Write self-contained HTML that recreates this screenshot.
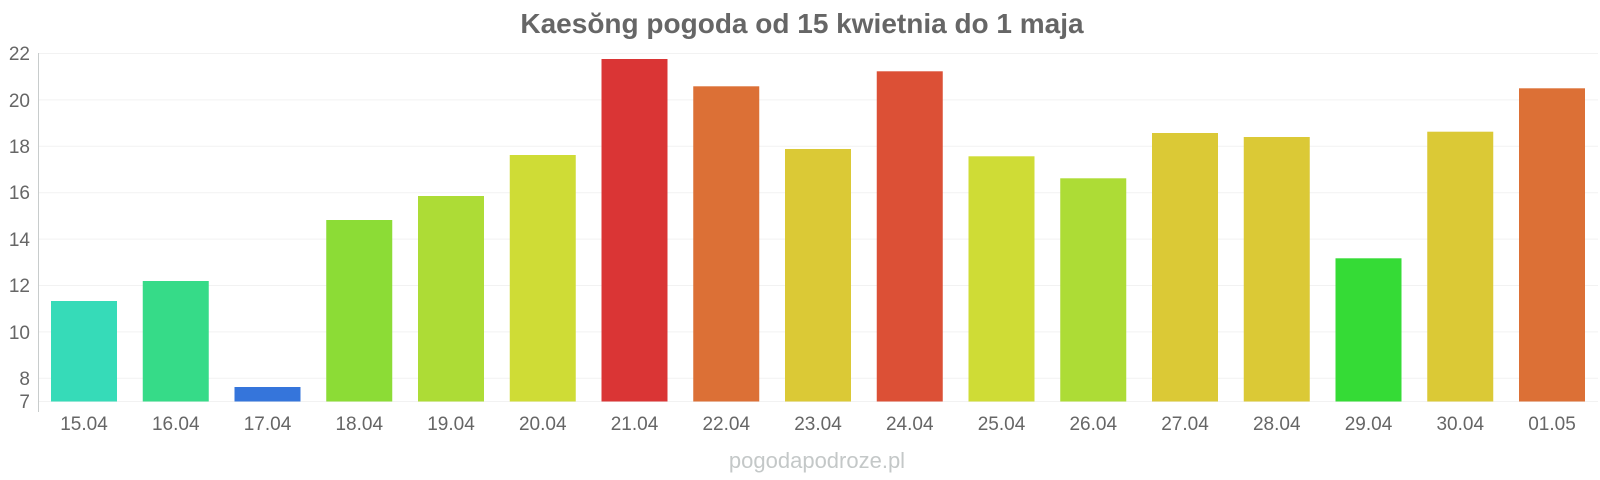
<!DOCTYPE html>
<html><head><meta charset="utf-8"><style>
html,body{margin:0;padding:0;background:#fff;}
svg{display:block;font-family:"Liberation Sans",Arial,sans-serif;}
</style></head><body>
<svg width="1600" height="480" viewBox="0 0 1600 480" xmlns="http://www.w3.org/2000/svg">
<text x="802" y="33" text-anchor="middle" font-size="28" font-weight="bold" fill="#666">Kaesŏng pogoda od 15 kwietnia do 1 maja</text>
<g stroke="#f2f2f2" stroke-width="1">
<line x1="38" x2="1598" y1="53.5" y2="53.5"/>
<line x1="38" x2="1598" y1="99.9" y2="99.9"/>
<line x1="38" x2="1598" y1="146.3" y2="146.3"/>
<line x1="38" x2="1598" y1="192.7" y2="192.7"/>
<line x1="38" x2="1598" y1="239.1" y2="239.1"/>
<line x1="38" x2="1598" y1="285.5" y2="285.5"/>
<line x1="38" x2="1598" y1="331.9" y2="331.9"/>
<line x1="38" x2="1598" y1="378.3" y2="378.3"/>
<line x1="38" x2="1598" y1="401.5" y2="401.5"/>
</g>
<line x1="38.5" x2="38.5" y1="53" y2="412" stroke="#c8cccc" stroke-width="1"/>
<g font-size="19" fill="#666" text-anchor="end">
<text x="30" y="60">22</text>
<text x="30" y="107">20</text>
<text x="30" y="153">18</text>
<text x="30" y="199">16</text>
<text x="30" y="246">14</text>
<text x="30" y="292">12</text>
<text x="30" y="339">10</text>
<text x="30" y="385">8</text>
<text x="30" y="408">7</text>
</g>
<g>
<rect x="51" y="301" width="66" height="100.5" fill="#36dbb8"/>
<rect x="142.75" y="281" width="66" height="120.5" fill="#36db88"/>
<rect x="234.5" y="387" width="66" height="14.5" fill="#3575db"/>
<rect x="326.25" y="220" width="66" height="181.5" fill="#8cdc36"/>
<rect x="418" y="196" width="66" height="205.5" fill="#addc36"/>
<rect x="509.75" y="155" width="66" height="246.5" fill="#cfdc36"/>
<rect x="601.5" y="59" width="66" height="342.5" fill="#da3535"/>
<rect x="693.25" y="86.3" width="66" height="315.2" fill="#dc7036"/>
<rect x="785" y="149" width="66" height="252.5" fill="#dbc936"/>
<rect x="876.75" y="71.3" width="66" height="330.2" fill="#dc5036"/>
<rect x="968.5" y="156.3" width="66" height="245.2" fill="#cfdc36"/>
<rect x="1060.25" y="178.3" width="66" height="223.2" fill="#addc36"/>
<rect x="1152" y="133" width="66" height="268.5" fill="#dbc936"/>
<rect x="1243.75" y="137" width="66" height="264.5" fill="#dbc936"/>
<rect x="1335.5" y="258.3" width="66" height="143.2" fill="#35db36"/>
<rect x="1427.25" y="131.7" width="66" height="269.8" fill="#dbc936"/>
<rect x="1519" y="88.3" width="66" height="313.2" fill="#dc7036"/>
</g>
<g font-size="19" fill="#666" text-anchor="middle">
<text x="84" y="430">15.04</text>
<text x="175.75" y="430">16.04</text>
<text x="267.5" y="430">17.04</text>
<text x="359.25" y="430">18.04</text>
<text x="451" y="430">19.04</text>
<text x="542.75" y="430">20.04</text>
<text x="634.5" y="430">21.04</text>
<text x="726.25" y="430">22.04</text>
<text x="818" y="430">23.04</text>
<text x="909.75" y="430">24.04</text>
<text x="1001.5" y="430">25.04</text>
<text x="1093.25" y="430">26.04</text>
<text x="1185" y="430">27.04</text>
<text x="1276.75" y="430">28.04</text>
<text x="1368.5" y="430">29.04</text>
<text x="1460.25" y="430">30.04</text>
<text x="1552" y="430">01.05</text>
</g>
<text x="817" y="468" text-anchor="middle" font-size="22" fill="#c4c8c8">pogodapodroze.pl</text>
</svg>
</body></html>
